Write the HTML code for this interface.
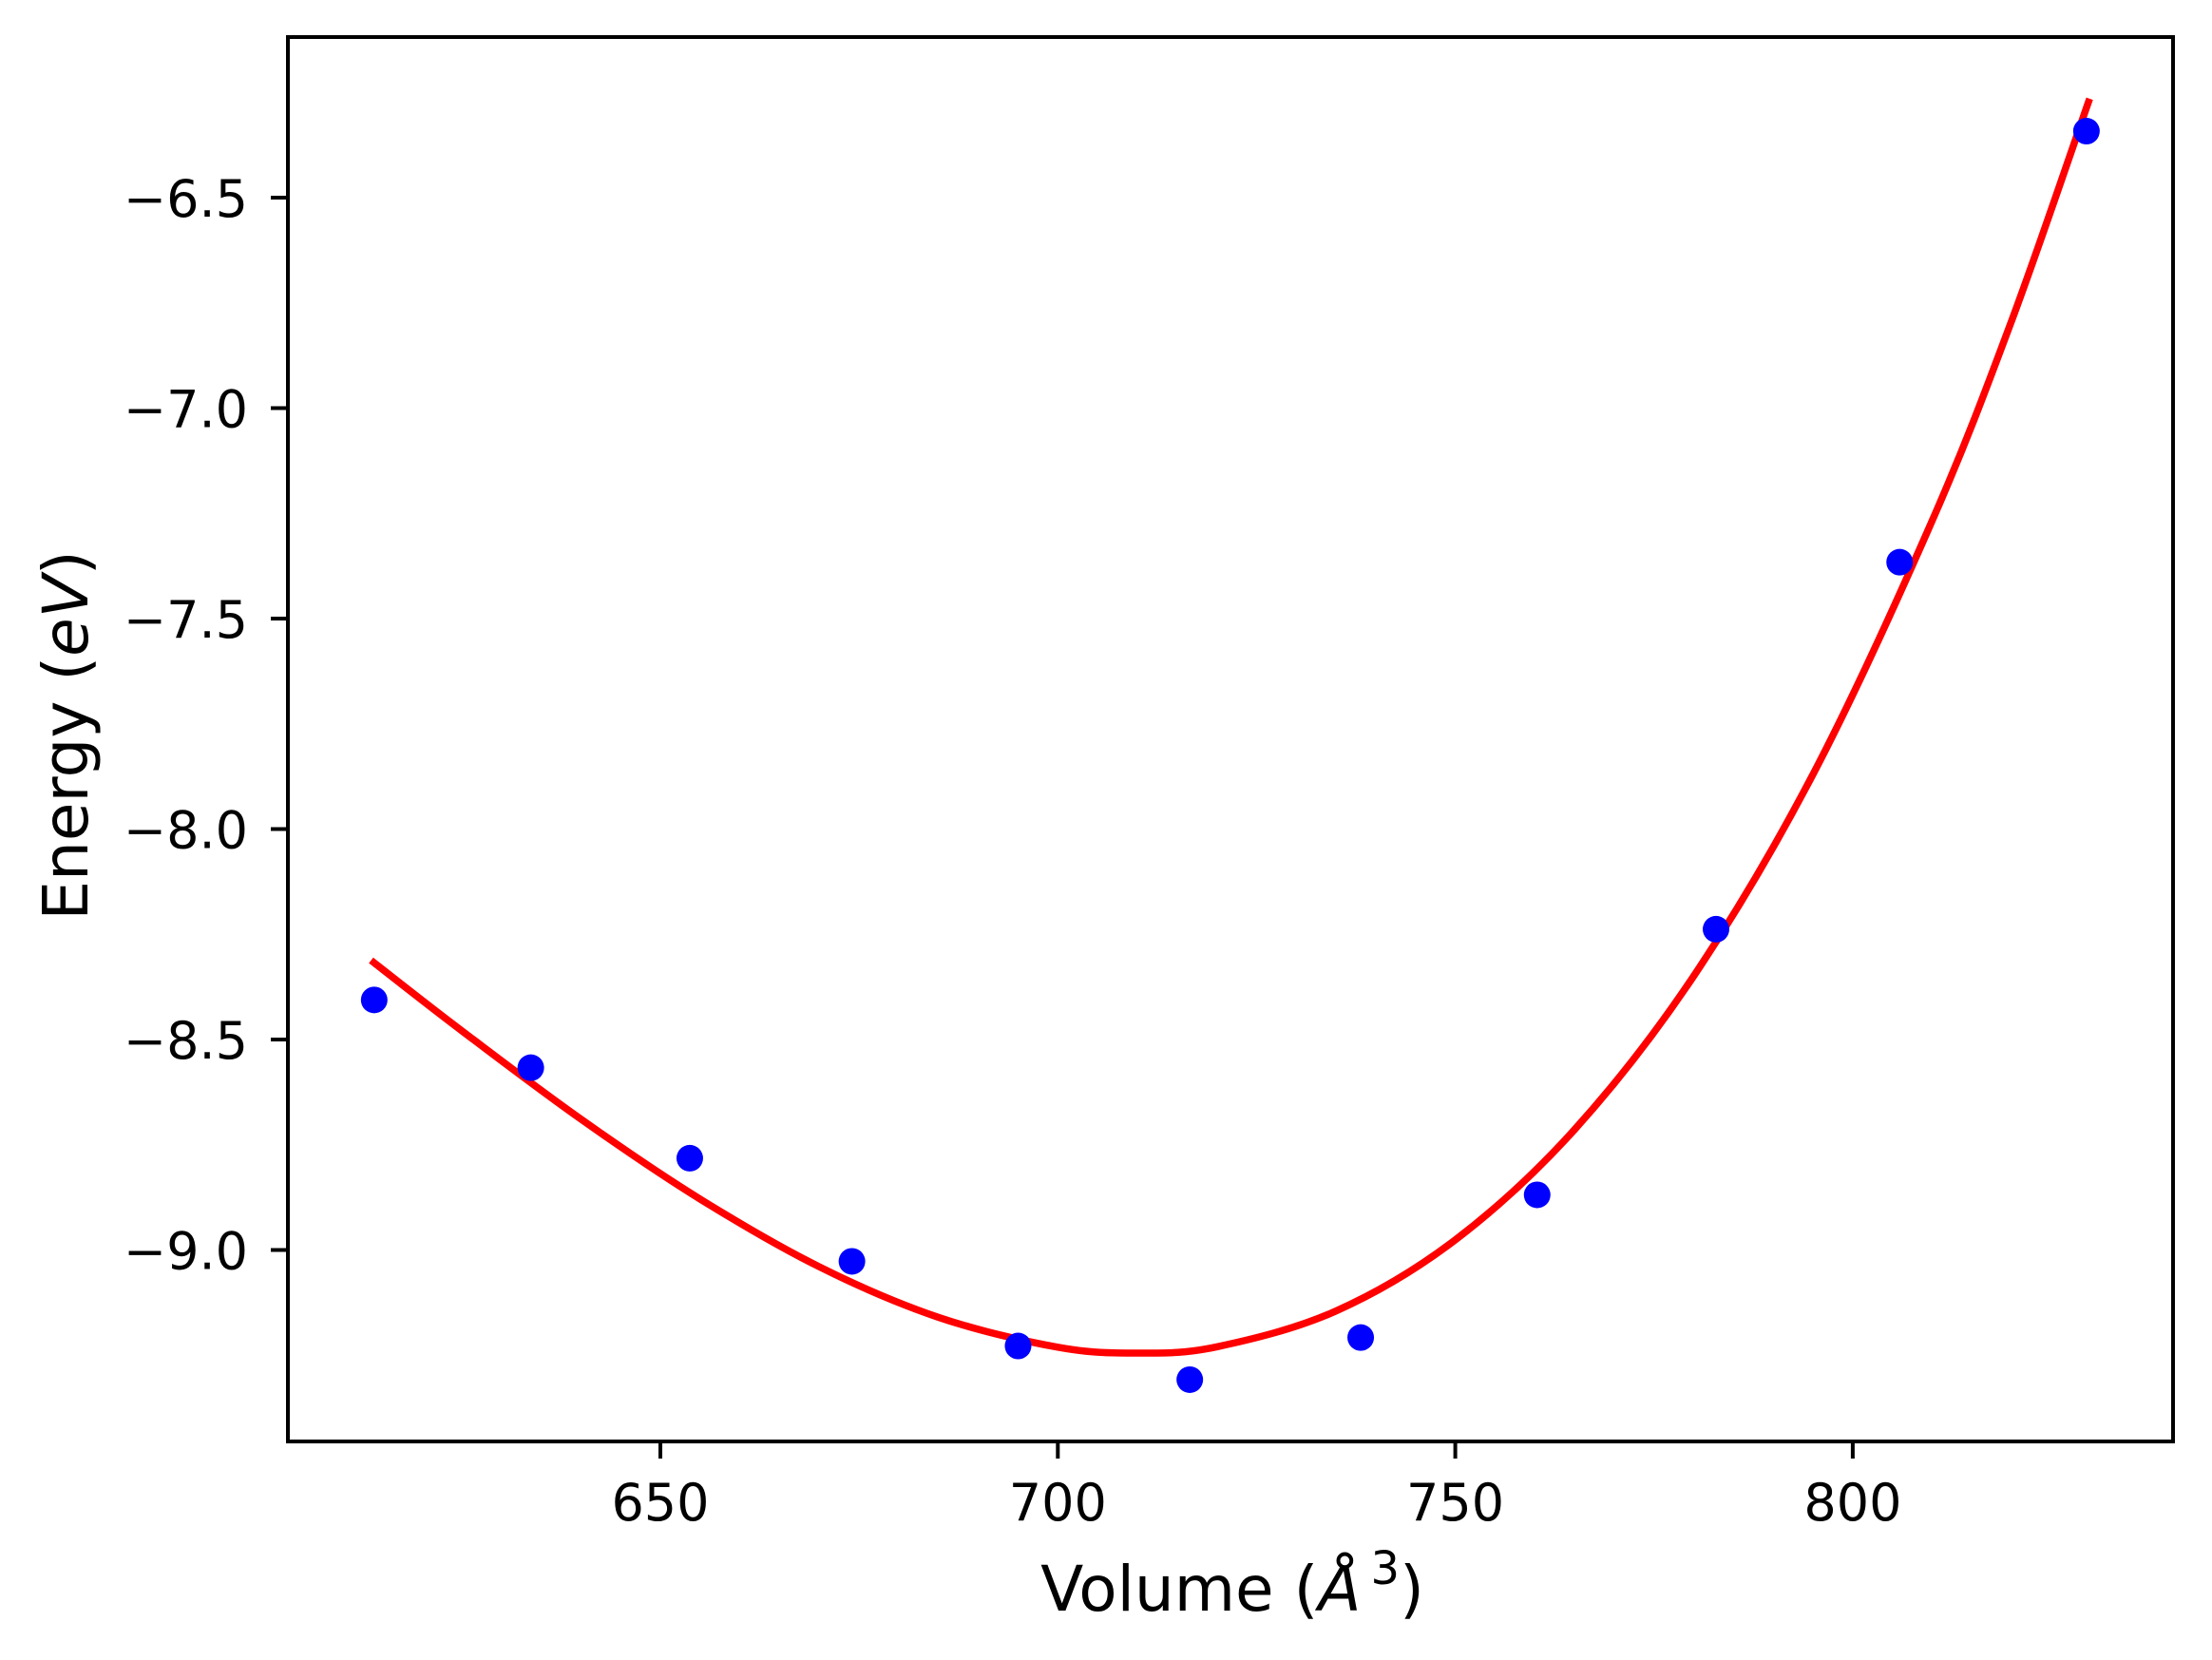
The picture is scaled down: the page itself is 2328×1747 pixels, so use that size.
<!DOCTYPE html>
<html><head><meta charset="utf-8"><style>
html,body{margin:0;padding:0;background:#fff;}
svg{display:block;font-family:"DejaVu Sans","Liberation Sans",sans-serif;}
</style></head><body>
<svg id="chart" width="2328" height="1747" viewBox="0 0 2328 1747" xmlns="http://www.w3.org/2000/svg">
<rect x="0" y="0" width="2328" height="1747" fill="#fff"/>
<g id="plot"></g>
<g id="axes"></g>
<text x="1297" y="1695" font-size="66" text-anchor="middle">Volume (<tspan font-style="italic">Å</tspan><tspan font-size="48" dx="10" dy="-28">3</tspan><tspan dy="28">)</tspan></text>
<text transform="translate(92,774) rotate(-90)" font-size="66" text-anchor="middle">Energy (<tspan font-style="italic">eV</tspan>)</text>
</svg>
<script>
const pointVolumes = [614.0, 633.7, 653.7, 674.1, 695.0, 716.6, 738.1, 760.3, 782.8, 805.9, 829.4];
const pointEnergies = [-8.406, -8.567, -8.782, -9.027, -9.228, -9.308, -9.208, -8.869, -8.238, -7.366, -6.342];
const fitVolumes = [613.6, 625, 640, 655, 670, 685, 700, 710, 720, 735, 750, 765, 780, 795, 810, 820, 829.8];
const fitEnergies = [-8.312, -8.479, -8.689, -8.879, -9.040, -9.160, -9.231, -9.245, -9.230, -9.145, -8.976, -8.714, -8.349, -7.870, -7.267, -6.792, -6.265];
const xTicks = [650, 700, 750, 800];
const xTickLabels = ["650", "700", "750", "800"];
const yTicks = [-6.5, -7.0, -7.5, -8.0, -8.5, -9.0];
const yTickLabels = ["\u22126.5", "\u22127.0", "\u22127.5", "\u22128.0", "\u22128.5", "\u22129.0"];

const L = 303, R = 2287, T = 39, B = 1517;
function xs(v){ return 695 + (v - 650) * 8.366; }
function ys(v){ return 208 + (-6.5 - v) * 443; }
const NS = "http://www.w3.org/2000/svg";
const plot = document.getElementById('plot');
const axes = document.getElementById('axes');

const P = fitVolumes.map((v,i)=>[xs(v), ys(fitEnergies[i])]);
let d = "M" + P[0][0].toFixed(1) + "," + P[0][1].toFixed(1);
for (let i = 0; i < P.length - 1; i++) {
  const p0 = P[Math.max(0,i-1)], p1 = P[i], p2 = P[i+1], p3 = P[Math.min(P.length-1,i+2)];
  const c1 = [p1[0] + (p2[0]-p0[0])/6, p1[1] + (p2[1]-p0[1])/6];
  const c2 = [p2[0] - (p3[0]-p1[0])/6, p2[1] - (p3[1]-p1[1])/6];
  d += " C" + c1[0].toFixed(1)+","+c1[1].toFixed(1)+" "+c2[0].toFixed(1)+","+c2[1].toFixed(1)+" "+p2[0].toFixed(1)+","+p2[1].toFixed(1);
}
const line = document.createElementNS(NS,'path');
line.setAttribute('d', d);
line.setAttribute('fill','none');
line.setAttribute('stroke','#ff0000');
line.setAttribute('stroke-width','7.5');


plot.appendChild(line);

pointVolumes.forEach((v,i)=>{
  const c = document.createElementNS(NS,'circle');
  c.setAttribute('cx', xs(v));
  c.setAttribute('cy', ys(pointEnergies[i]));
  c.setAttribute('r', 14);
  c.setAttribute('fill', '#0000ff');
  
  
  plot.appendChild(c);
});

const frame = document.createElementNS(NS,'rect');
frame.setAttribute('x', L); frame.setAttribute('y', T);
frame.setAttribute('width', R-L); frame.setAttribute('height', B-T);
frame.setAttribute('fill','none'); frame.setAttribute('stroke','#000'); frame.setAttribute('stroke-width','4');


axes.appendChild(frame);

xTicks.forEach((v,i)=>{
  const x = xs(v);
  const t = document.createElementNS(NS,'line');
  t.setAttribute('x1',x); t.setAttribute('x2',x); t.setAttribute('y1',B); t.setAttribute('y2',B+18);
  t.setAttribute('stroke','#000'); t.setAttribute('stroke-width','4');
  
  
  axes.appendChild(t);
  const lb = document.createElementNS(NS,'text');
  lb.setAttribute('x',x); lb.setAttribute('y',1600);
  lb.setAttribute('font-size','54'); lb.setAttribute('text-anchor','middle');
  lb.textContent = xTickLabels[i];
  
  
  axes.appendChild(lb);
});
yTicks.forEach((v,i)=>{
  const y = ys(v);
  const t = document.createElementNS(NS,'line');
  t.setAttribute('x1',L-18); t.setAttribute('x2',L); t.setAttribute('y1',y); t.setAttribute('y2',y);
  t.setAttribute('stroke','#000'); t.setAttribute('stroke-width','4');
  
  
  axes.appendChild(t);
  const lb = document.createElementNS(NS,'text');
  lb.setAttribute('x',261); lb.setAttribute('y',y+20);
  lb.setAttribute('font-size','54'); lb.setAttribute('text-anchor','end');
  lb.textContent = yTickLabels[i];
  
  
  axes.appendChild(lb);
});
</script>
</body></html>
